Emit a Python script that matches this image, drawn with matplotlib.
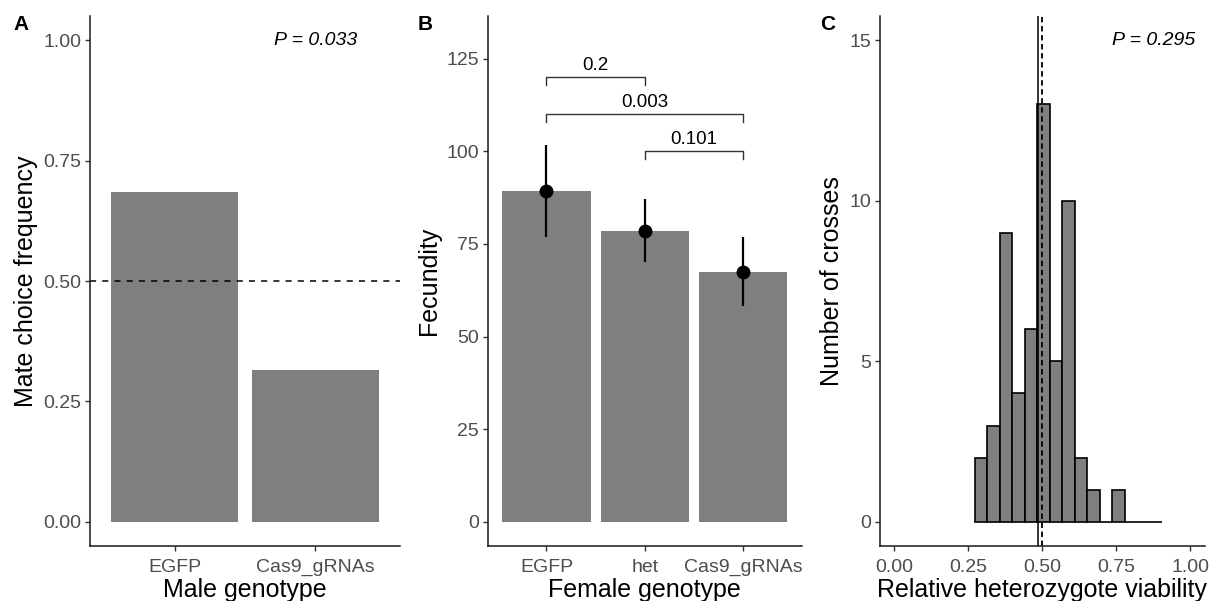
import matplotlib
matplotlib.use("Agg")
import matplotlib.pyplot as plt
import numpy as np

plt.rcParams['font.family'] = ['Liberation Sans', 'DejaVu Sans']

# panel A: mate choice
male_geno = ["EGFP", "Cas9_gRNAs"]
choice_freq = [0.685, 0.315]
p_choice = "P = 0.033"

# panel B: fecundity
female_geno = ["EGFP", "het", "Cas9_gRNAs"]
fecundity = [89.3, 78.6, 67.5]
fec_low = [77.0, 70.0, 58.2]
fec_high = [101.6, 87.0, 77.0]
# comparisons between groups, bracket height and p label
comp_pairs = [(0, 1), (0, 2), (1, 2)]
comp_y = [120, 110, 100]
comp_lab = ["0.2", "0.003", "0.101"]

# panel C: histogram of heterozygote viability
bin_start = 0.2725
bin_width = 0.0422
counts = [2, 3, 9, 4, 6, 13, 5, 10, 2, 1, 0, 1, 0, 0, 0]
viab_mean = 0.487
p_viab = "P = 0.295"

bar_col = "#7F7F7F"
tick_col = "#4D4D4D"

fig = plt.figure(figsize=(12.13, 6.01), dpi=100)
W, H = 1213, 601
def add_ax(l, r, t, b):
    return fig.add_axes([l / W, (H - b) / H, (r - l) / W, (b - t) / H])

axA = add_ax(90, 400, 16, 546)
axB = add_ax(487.5, 802, 16, 546)
axC = add_ax(879.5, 1205, 16, 546)

def style(ax):
    for s in ["top", "right"]:
        ax.spines[s].set_visible(False)
    for s in ["left", "bottom"]:
        ax.spines[s].set_linewidth(1.1)
        ax.spines[s].set_color("#1a1a1a")
    ax.tick_params(length=3.5, width=1, color="#333333", labelcolor=tick_col,
                   labelsize=14)
    ax.tick_params(axis="x", pad=5.5)
    ax.tick_params(axis="y", pad=2.5)

# A
xa = np.arange(len(male_geno)) + 1
axA.bar(xa, choice_freq, width=0.9, color=bar_col)
axA.axhline(0.5, color="black", lw=1.1, ls=(0, (4, 4)))
axA.set_xlim(0.4, 2.6)
axA.set_ylim(-0.05, 1.05)
axA.set_xticks(xa)
axA.set_xticklabels(male_geno)
axA.set_yticks([0, 0.25, 0.5, 0.75, 1.0])
axA.set_yticklabels(["0.00", "0.25", "0.50", "0.75", "1.00"])
axA.text(2, 1.0, p_choice, style="italic", fontsize=14, ha="center", va="center")
axA.set_xlabel("Male genotype", fontsize=18, labelpad=2)
axA.set_ylabel("Mate choice frequency", fontsize=18, labelpad=4)
style(axA)

# B
xb = np.arange(len(female_geno)) + 1
axB.bar(xb, fecundity, width=0.9, color=bar_col)
axB.vlines(xb, fec_low, fec_high, color="black", lw=1.6)
axB.plot(xb, fecundity, "o", color="black", ms=9)
for (i, j), y, lab in zip(comp_pairs, comp_y, comp_lab):
    axB.plot([xb[i], xb[i], xb[j], xb[j]], [y - 2, y, y, y - 2], color="#333333", lw=1)
    axB.text((xb[i] + xb[j]) / 2, y + 0.8, lab, fontsize=13.5, ha="center", va="bottom")
axB.set_xlim(0.4, 3.6)
axB.set_ylim(-6.5, 136.5)
axB.set_xticks(xb)
axB.set_xticklabels(female_geno)
axB.set_yticks([0, 25, 50, 75, 100, 125])
axB.set_xlabel("Female genotype", fontsize=18, labelpad=2)
axB.set_ylabel("Fecundity", fontsize=18, labelpad=4)
style(axB)

# C
edges = bin_start + bin_width * np.arange(len(counts))
axC.bar(edges, counts, width=bin_width, align="edge", color=bar_col,
        edgecolor="black", linewidth=1.2)
axC.axvline(viab_mean, color="black", lw=1.1)
axC.axvline(0.5, color="black", lw=1.3, ls=(0, (3, 2)))
axC.set_xlim(-0.05, 1.05)
axC.set_ylim(-0.75, 15.75)
axC.set_xticks([0, 0.25, 0.5, 0.75, 1.0])
axC.set_xticklabels(["0.00", "0.25", "0.50", "0.75", "1.00"])
axC.set_yticks([0, 5, 10, 15])
axC.text(0.875, 15, p_viab, style="italic", fontsize=14, ha="center", va="center")
axC.set_xlabel("Relative heterozygote viability", fontsize=18, labelpad=2)
axC.set_ylabel("Number of crosses", fontsize=18, labelpad=4)
style(axC)

for lab, x in zip(["A", "B", "C"], [13, 418, 820]):
    fig.text(x / W, 1 - 25 / H, lab, fontsize=15, fontweight="bold", va="center")

fig.savefig("out.png", dpi=100)
